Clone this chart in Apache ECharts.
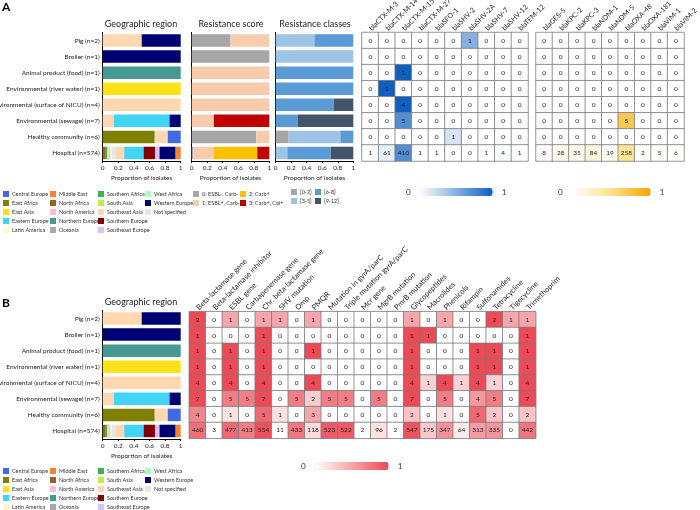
<!DOCTYPE html>
<html>
<head>
<meta charset="utf-8">
<script src="https://cdn.jsdelivr.net/npm/echarts@6/dist/echarts.min.js"></script>
<style>
html, body { margin: 0; padding: 0; background: #fff; }
#chart { width: 700px; height: 510px; }
</style>
</head>
<body>
<div id="chart"></div>
<script>
// rows of every panel, top to bottom
const rowNames = ['Pig (n=2)', 'Broiler (n=1)', 'Animal product (food) (n=1)', 'Environmental (river water) (n=1)',
  'Environmental (surface of NICU) (n=4)', 'Environmental (sewage) (n=7)', 'Healthy community (n=6)', 'Hospital (n=574)'];
const rowSizes = [2, 1, 1, 1, 4, 7, 6, 574];

// geographic regions in stacking order
const regionNames = ['North Africa', 'Southern Africa', 'West Africa', 'South Asia', 'North America', 'Latin America',
  'Not specified', 'East Africa', 'Southeast Asia', 'Northern Europe', 'East Asia', 'Eastern Europe', 'Southern Europe',
  'Oceania', 'Southeast Europe', 'Central Europe', 'Western Europe', 'Middle East'];
const regionColors = ['#9a6324', '#3cb44b', '#aaffc3', '#bfef45', '#fabed4', '#fffac8',
  '#e6e6e6', '#808000', '#ffd8b1', '#469990', '#ffe119', '#42d4f4', '#800000',
  '#a9a9a9', '#dcbeff', '#4169e1', '#000075', '#f58231'];
// proportion of isolates per row, one line per region
const regionShares = [
  [0, 0, 0, 0, 0, 0, 0, 0.04],
  [0, 0, 0, 0, 0, 0, 0, 0.02],
  [0, 0, 0, 0, 0, 0, 0, 0.01],
  [0, 0, 0, 0, 0, 0, 0, 0.005],
  [0, 0, 0, 0, 0, 0, 0, 0.025],
  [0, 0, 0, 0, 0, 0, 0, 0.02],
  [0, 0, 0, 0, 0, 0, 0, 0.04],
  [0, 0, 0, 0, 0, 0, 0.667, 0],
  [0.5, 0, 0, 0, 1, 0.143, 0.167, 0.115],
  [0, 0, 1, 0, 0, 0, 0, 0.005],
  [0, 0, 0, 1, 0, 0, 0, 0],
  [0, 0, 0, 0, 0, 0.714, 0, 0.245],
  [0, 0, 0, 0, 0, 0, 0, 0.145],
  [0, 0, 0, 0, 0, 0, 0, 0.01],
  [0, 0, 0, 0, 0, 0, 0, 0.045],
  [0, 0, 0, 0, 0, 0, 0.167, 0.005],
  [0.5, 1, 0, 0, 0, 0.143, 0, 0.205],
  [0, 0, 0, 0, 0, 0, 0, 0.065]
];
const regionLegendCols = [
  ['Central Europe', 'East Africa', 'East Asia', 'Eastern Europe', 'Latin America'],
  ['Middle East', 'North Africa', 'North America', 'Northern Europe', 'Oceania'],
  ['Southern Africa', 'South Asia', 'Southeast Asia', 'Southern Europe', 'Southeast Europe'],
  ['West Africa', 'Western Europe', 'Not specified']
];

const scoreNames = ['0: ESBL-, Carb-', '1: ESBL+, Carb-', '2: Carb+', '3: Carb+, Col+'];
const scoreColors = ['#a6a6a6', '#f8cbad', '#ffc000', '#c00000'];
const scoreShares = [
  [0.5, 1, 0, 0, 0, 0, 0.833, 0.02],
  [0.5, 0, 1, 1, 1, 0.286, 0.167, 0.26],
  [0, 0, 0, 0, 0, 0, 0, 0.565],
  [0, 0, 0, 0, 0, 0.714, 0, 0.155]
];

const classNames = ['[0-2]', '[3-5]', '[6-8]', '[9-12]'];
const classColors = ['#a6a6a6', '#9dc3e6', '#5b9bd5', '#44546a'];
const classShares = [
  [0, 0, 0, 0, 0, 0, 0.167, 0],
  [0.5, 1, 0, 0, 0, 0, 0.667, 0.15],
  [0.5, 0, 1, 1, 0.75, 0.286, 0.167, 0.56],
  [0, 0, 0, 0, 0.25, 0.714, 0, 0.29]
];

const esblGenes = ['blaCTX-M-3', 'blaCTX-M-14', 'blaCTX-M-15', 'blaCTX-M-27', 'blaSFO-1', 'blaSHV-2', 'blaSHV-2A',
  'blaSHV-7', 'blaSHV-12', 'blaTEM-12'];
const esblCounts = [
  [0, 0, 0, 0, 0, 0, 1, 0, 0, 0],
  [0, 0, 0, 0, 0, 0, 0, 0, 0, 0],
  [0, 0, 1, 0, 0, 0, 0, 0, 0, 0],
  [0, 1, 0, 0, 0, 0, 0, 0, 0, 0],
  [0, 0, 4, 0, 0, 0, 0, 0, 0, 0],
  [0, 0, 5, 0, 0, 0, 0, 0, 0, 0],
  [0, 0, 0, 0, 0, 1, 0, 0, 0, 0],
  [1, 61, 410, 1, 1, 0, 0, 1, 4, 1]
];

const carbGenes = ['blaGES-5', 'blaKPC-2', 'blaKPC-3', 'blaNDM-1', 'blaNDM-5', 'blaOXA-48', 'blaOXA-181', 'blaVIM-1', 'blaVIM-2'];
const carbCounts = [
  [0, 0, 0, 0, 0, 0, 0, 0, 0],
  [0, 0, 0, 0, 0, 0, 0, 0, 0],
  [0, 0, 0, 0, 0, 0, 0, 0, 0],
  [0, 0, 0, 0, 0, 0, 0, 0, 0],
  [0, 0, 0, 0, 0, 0, 0, 0, 0],
  [0, 0, 0, 0, 0, 5, 0, 0, 0],
  [0, 0, 0, 0, 0, 0, 0, 0, 0],
  [8, 28, 35, 84, 19, 258, 2, 5, 6]
];

const classB = ['Beta-lactamase gene', 'Beta-lactamase inhibitor', 'ESBL gene', 'Carbapenemase gene',
  'Chr. beta-lactamase gene', 'SHV mutation', 'Omp', 'PMQR', 'Mutation in gyrA/parC', 'Triple mutation gyrA/parC',
  'Mcr gene', 'MgrB mutation', 'PmrB mutation', 'Glycopeptides', 'Macrolides', 'Phenicols', 'Rifampin',
  'Sulfonamides', 'Tetracycline', 'Tigecycline', 'Trimethoprim'];
const classBCounts = [
  [2, 0, 1, 0, 1, 1, 0, 1, 0, 0, 0, 0, 0, 1, 0, 1, 0, 0, 2, 1, 1],
  [1, 0, 0, 0, 1, 0, 0, 0, 0, 0, 0, 0, 0, 1, 1, 0, 0, 0, 0, 0, 1],
  [1, 0, 1, 0, 1, 0, 0, 1, 0, 0, 0, 0, 0, 1, 0, 0, 0, 1, 1, 0, 1],
  [1, 0, 1, 0, 1, 0, 0, 0, 0, 0, 0, 0, 0, 1, 0, 0, 0, 1, 1, 0, 1],
  [4, 0, 4, 0, 4, 0, 0, 4, 0, 0, 0, 0, 0, 4, 1, 4, 1, 4, 1, 0, 4],
  [7, 0, 5, 5, 7, 0, 5, 2, 5, 5, 0, 5, 0, 7, 0, 5, 0, 4, 5, 0, 7],
  [4, 0, 1, 0, 5, 1, 0, 3, 0, 0, 0, 0, 0, 2, 0, 1, 0, 5, 2, 0, 2],
  [460, 3, 477, 413, 554, 11, 433, 118, 523, 522, 2, 96, 2, 547, 175, 347, 64, 313, 335, 0, 442]
];

const chart = echarts.init(document.getElementById('chart'));

const TOP_A = 32.5, TOP_B = 310.5, ROWS_H = 128.5;
const grids = [
  { left: 102.7, top: TOP_A, width: 78, height: ROWS_H },      // 0 geo A
  { left: 191.7, top: TOP_A, width: 77.6, height: ROWS_H },    // 1 score
  { left: 275.7, top: TOP_A, width: 77.6, height: ROWS_H },    // 2 classes
  { left: 362, top: TOP_A, width: 166, height: ROWS_H },       // 3 esbl heatmap
  { left: 536, top: TOP_A, width: 148, height: ROWS_H },       // 4 carb heatmap
  { left: 102.7, top: TOP_B, width: 78, height: ROWS_H },      // 5 geo B
  { left: 189.3, top: TOP_B + 1.2, width: 346.4, height: 126.6 } // 6 class heatmap
].map(g => Object.assign({ outerBoundsMode: 'none', containLabel: false }, g));

const xAxes = [];
const yAxes = [];
[0, 1, 2, 5].forEach(g => {
  xAxes[g] = {
    gridIndex: g, type: 'value', min: 0, max: 1, interval: 0.2,
    axisLine: { show: true, lineStyle: { color: '#000', width: 1 } },
    axisTick: { show: true, length: 2, lineStyle: { color: '#000' } },
    axisLabel: { fontSize: 6.5, color: '#222', margin: 3 },
    splitLine: { show: false },
    name: 'Proportion of isolates', nameLocation: 'middle', nameGap: 13,
    nameTextStyle: { fontSize: 6.5, color: '#222' }
  };
  yAxes[g] = {
    gridIndex: g, type: 'category', inverse: true, data: rowNames,
    axisLine: { show: true, lineStyle: { color: '#000', width: 1 } },
    axisTick: { show: false },
    axisLabel: { show: g === 0 || g === 5, fontSize: 6.5, color: '#222', margin: 3 }
  };
});
[[3, esblGenes, 7], [4, carbGenes, 7], [6, classB, 7.5]].forEach(([g, cats, fs]) => {
  xAxes[g] = {
    gridIndex: g, type: 'category', data: cats, position: 'top',
    axisLine: { show: false }, axisTick: { show: false }, splitLine: { show: false },
    axisLabel: { rotate: -45, interval: 0, fontSize: fs, color: '#222', margin: 3 }
  };
  yAxes[g] = { gridIndex: g, type: 'category', inverse: true, data: rowNames, show: false };
});

const series = [];
function addStack(names, colors, shares, g, stack) {
  names.forEach((name, i) => {
    series.push({
      name: name, type: 'bar', stack: stack, xAxisIndex: g, yAxisIndex: g,
      barWidth: 12.5, itemStyle: { color: colors[i] }, data: shares[i]
    });
  });
}
addStack(regionNames, regionColors, regionShares, 0, 'geoA');
addStack(scoreNames, scoreColors, scoreShares, 1, 'score');
addStack(classNames, classColors, classShares, 2, 'classes');
addStack(regionNames, regionColors, regionShares, 5, 'geoB');

function heatData(counts) {
  const out = [];
  counts.forEach((row, i) => row.forEach((c, j) => out.push([j, i, c, c / rowSizes[i]])));
  return out;
}
function addHeat(counts, g) {
  series.push({
    type: 'heatmap', xAxisIndex: g, yAxisIndex: g, data: heatData(counts),
    itemStyle: { borderColor: '#7a7a7a', borderWidth: 0.8 },
    label: { show: true, fontSize: 6.5, color: '#222', formatter: p => p.value[2] },
    emphasis: { disabled: true }
  });
  return series.length - 1;
}
const heatEsbl = addHeat(esblCounts, 3);
const heatCarb = addHeat(carbCounts, 4);
const heatB = addHeat(classBCounts, 6);

function colorBar(idx, left, top, len, colors) {
  return {
    type: 'continuous', seriesIndex: idx, dimension: 3, min: 0, max: 1,
    orient: 'horizontal', left: left, top: top, itemWidth: 8, itemHeight: len,
    text: ['1', '0'], textGap: 9, calculable: false, padding: 0,
    textStyle: { fontSize: 8, color: '#333' },
    inRange: { color: colors }
  };
}

function legendCol(names, left, top) {
  return {
    data: names, orient: 'vertical', left: left, top: top, height: 60, padding: 0,
    icon: 'rect', itemWidth: 6, itemHeight: 6, itemGap: 1,
    textStyle: { fontSize: 5.5, lineHeight: 8, color: '#333', padding: [0, 0, 0, -2] }
  };
}
const legendXs = [3, 50, 98, 145];
const legends = [];
regionLegendCols.forEach((col, k) => {
  legends.push(legendCol(col, legendXs[k], 190));
  legends.push(legendCol(col, legendXs[k], 467));
});
legends.push(legendCol(scoreNames.slice(0, 2), 193, 190));
legends.push(legendCol(scoreNames.slice(2), 240, 190));
legends.push(legendCol([classNames[0], classNames[1]], 291, 188));
legends.push(legendCol([classNames[2], classNames[3]], 315, 188));

const headStyle = { fontSize: 9, fontWeight: 'normal', color: '#222' };
chart.setOption({
  animation: false,
  textStyle: { fontFamily: 'Lato' },
  title: [
    { text: 'A', left: 2, top: 1, padding: 0, textStyle: { fontSize: 12, fontWeight: 'bold', color: '#000' } },
    { text: 'B', left: 2, top: 297, padding: 0, textStyle: { fontSize: 12, fontWeight: 'bold', color: '#000' } },
    { text: 'Geographic region', left: 141, top: 20, padding: 0, textAlign: 'center', textStyle: headStyle },
    { text: 'Resistance score', left: 231, top: 20, padding: 0, textAlign: 'center', textStyle: headStyle },
    { text: 'Resistance classes', left: 315, top: 20, padding: 0, textAlign: 'center', textStyle: headStyle },
    { text: 'Geographic region', left: 141, top: 298, padding: 0, textAlign: 'center', textStyle: headStyle }
  ],
  legend: legends,
  grid: grids,
  xAxis: xAxes,
  yAxis: yAxes,
  visualMap: [
    colorBar(heatEsbl, 406, 188, 73, ['#ffffff', '#0e5fc0']),
    colorBar(heatCarb, 558, 188, 79, ['#ffffff', '#fde28c', '#f2a600']),
    colorBar(heatB, 301, 462, 74, ['#ffffff', '#ec4a56'])
  ],
  series: series
});
</script>
</body>
</html>
